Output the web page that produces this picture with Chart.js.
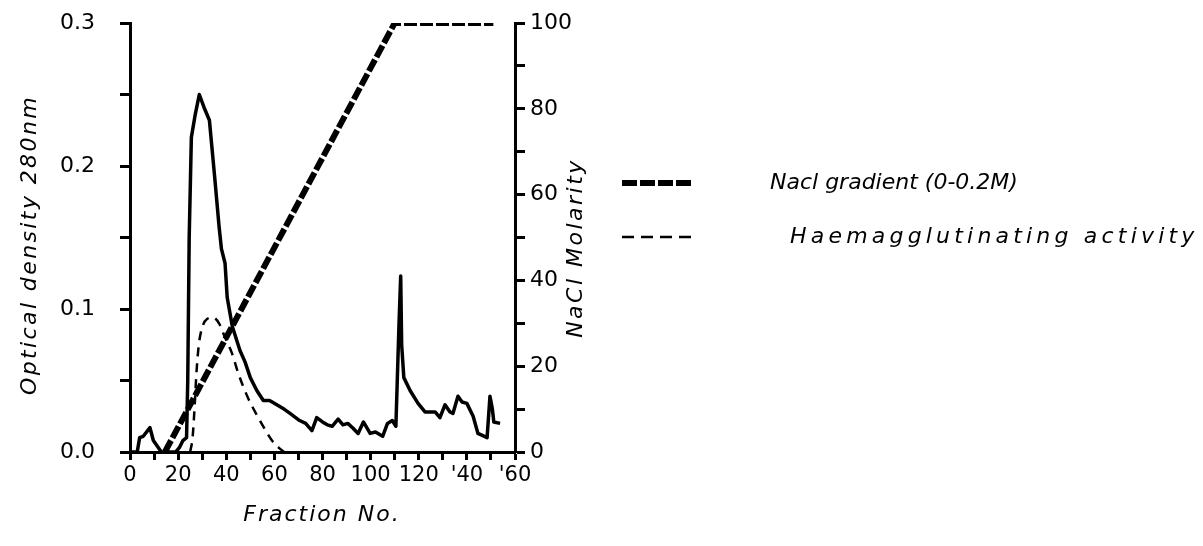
<!DOCTYPE html>
<html>
<head>
<meta charset="utf-8">
<script src="https://cdn.jsdelivr.net/npm/chart.js@4.4.1/dist/chart.umd.min.js"></script>
<style>
  html, body { margin: 0; padding: 0; background: #fff; }
  #wrap { width: 1203px; height: 546px; position: relative; }
</style>
</head>
<body>
<div id="wrap"><canvas id="chart" width="1203" height="546"></canvas></div>
<script>
// optical density at 280nm (left axis)
const odFraction = [0, 3, 4, 5.5, 8.3, 9.7, 11.8, 13, 19, 20.5, 22, 23.5, 24, 24.6, 25.5, 27, 28.8, 31, 33, 35.2, 37, 38, 39.5, 40.4, 42.5, 45.7, 47.8, 50, 52.7, 55.4, 58, 61, 64, 66.5, 70.5, 73, 75.6, 77.6, 80, 82, 84, 86.5, 88.5, 90.5, 92.5, 94.8, 97, 99.8, 102, 105, 107, 109, 110.5, 111.8, 112.5, 112.9, 113.8, 116.4, 119.7, 122.6, 126.8, 128.8, 130.9, 133, 134.2, 136.3, 138, 140, 142.6, 144.6, 148.4, 149.6, 150.6, 151.2, 153.8];
const odValue    = [0, 0, 0.01, 0.011, 0.017, 0.008, 0.003, 0, 0, 0.003, 0.008, 0.01, 0.05, 0.15, 0.22, 0.235, 0.25, 0.24, 0.232, 0.192, 0.158, 0.142, 0.132, 0.108, 0.088, 0.071, 0.063, 0.052, 0.043, 0.036, 0.036, 0.033, 0.03, 0.027, 0.022, 0.02, 0.015, 0.024, 0.021, 0.019, 0.018, 0.023, 0.019, 0.02, 0.017, 0.013, 0.021, 0.013, 0.014, 0.011, 0.02, 0.022, 0.018, 0.09, 0.123, 0.075, 0.052, 0.043, 0.034, 0.028, 0.028, 0.024, 0.033, 0.028, 0.027, 0.039, 0.035, 0.034, 0.025, 0.013, 0.01, 0.039, 0.03, 0.021, 0.02];

// NaCl gradient (right axis, 0-100)
const naclFraction = [14.5, 110, 151];
const naclValue    = [0, 100, 100];

// haemagglutinating activity (left axis)
const haFraction = [25, 26, 26.8, 27.6, 28.6, 30, 32, 34.5, 37, 39.5, 42.4, 45, 49, 52, 55, 59, 62.5, 64];
const haValue    = [0, 0.01, 0.03, 0.055, 0.075, 0.087, 0.093, 0.094, 0.09, 0.08, 0.069, 0.055, 0.038, 0.028, 0.019, 0.008, 0.002, 0];

const xTickLabels = {0: '0', 20: '20', 40: '40', 60: '60', 80: '80', 100: '100', 120: '120', 140: "'40", 160: "'60"};
const leftTickLabels = {0: '0.0', 10: '0.1', 20: '0.2', 30: '0.3'};
const rightTickLabels = {0: '0', 20: '20', 40: '40', 60: '60', 80: '80', 100: '100'};

const toPoints = (xs, ys) => xs.map((x, i) => ({ x: x, y: ys[i] }));

const FONT = "'DejaVu Sans', sans-serif";

function spacedText(ctx, text, x, y, spacing, angle) {
  ctx.save();
  ctx.translate(x, y);
  ctx.rotate(angle);
  ctx.letterSpacing = spacing + 'px';
  ctx.textAlign = 'center';
  ctx.textBaseline = 'middle';
  ctx.fillText(text, 0, 0);
  ctx.restore();
}

// axis titles (hand lettered, widely spaced) and the legend at the right
const annotations = {
  id: 'annotations',
  afterDraw(chart) {
    const ctx = chart.ctx;
    ctx.save();
    ctx.fillStyle = '#000';
    ctx.font = 'italic 22px ' + FONT;
    spacedText(ctx, 'Optical density 280nm', 30, 245, 2.4, -Math.PI / 2);
    spacedText(ctx, 'NaCl Molarity', 576, 248, 2.5, -Math.PI / 2);
    spacedText(ctx, 'Fraction No.', 322, 515, 2, 0);

    const rows = [
      { ds: chart.data.datasets[1], y: 183, textX: 770, spacing: 0 },
      { ds: chart.data.datasets[2], y: 237, textX: 790, spacing: 4.2 }
    ];
    rows.forEach(r => {
      ctx.beginPath();
      ctx.strokeStyle = '#000';
      ctx.lineWidth = r.ds.borderWidth;
      ctx.setLineDash(r.ds.legendDash);
      ctx.moveTo(622, r.y);
      ctx.lineTo(692, r.y);
      ctx.stroke();
      ctx.setLineDash([]);
      ctx.save();
      ctx.letterSpacing = r.spacing + 'px';
      ctx.textAlign = 'left';
      ctx.textBaseline = 'middle';
      ctx.fillText(r.ds.label, r.textX, r.y);
      ctx.restore();
    });
    ctx.restore();
  }
};

const noPad = s => { s.paddingTop = 0; s.paddingBottom = 0; s.paddingLeft = 0; s.paddingRight = 0; };

new Chart(document.getElementById('chart'), {
  type: 'line',
  data: {
    datasets: [
      {
        label: 'Optical density 280nm',
        data: toPoints(odFraction, odValue),
        yAxisID: 'y',
        borderColor: '#000',
        borderWidth: 3.5,
        pointRadius: 0,
        tension: 0,
        borderJoinStyle: 'round'
      },
      {
        label: 'Nacl gradient (0-0.2M)',
        data: toPoints(naclFraction, naclValue),
        yAxisID: 'y2',
        borderColor: '#000',
        borderWidth: 6,
        borderDash: [13, 3],
        legendDash: [15, 3],
        pointRadius: 0,
        tension: 0
      },
      {
        label: 'Haemagglutinating activity',
        data: toPoints(haFraction, haValue),
        yAxisID: 'y',
        borderColor: '#000',
        borderWidth: 2.5,
        borderDash: [9, 7],
        legendDash: [12, 7],
        pointRadius: 0,
        cubicInterpolationMode: 'monotone'
      }
    ]
  },
  options: {
    responsive: false,
    animation: false,
    layout: { padding: { left: 0, right: 603, top: 23, bottom: 0 } },
    plugins: { legend: { display: false }, tooltip: { enabled: false } },
    scales: {
      x: {
        type: 'linear',
        min: 0,
        max: 160,
        afterFit: s => { s.height = 94; noPad(s); },
        border: { color: '#000', width: 3 },
        grid: { drawOnChartArea: false, drawTicks: true, tickLength: 8, tickWidth: 3, color: '#000' },
        ticks: {
          stepSize: 10,
          autoSkip: false,
          maxRotation: 0,
          padding: 3,
          color: '#000',
          font: { family: FONT, size: 21 },
          callback: v => xTickLabels[v] !== undefined ? xTickLabels[v] : ''
        }
      },
      y: {
        type: 'linear',
        position: 'left',
        min: 0,
        max: 0.3,
        afterFit: s => { s.width = 130; noPad(s); },
        border: { color: '#000', width: 3 },
        grid: { drawOnChartArea: false, drawTicks: true, tickLength: 10, tickWidth: 3, color: '#000' },
        ticks: {
          stepSize: 0.05,
          autoSkip: false,
          padding: 25,
          color: '#000',
          font: { family: FONT, size: 22 },
          callback: v => {
            const k = Math.round(v * 100);
            return leftTickLabels[k] !== undefined ? leftTickLabels[k] : '';
          }
        }
      },
      y2: {
        type: 'linear',
        position: 'right',
        min: 0,
        max: 100,
        afterFit: s => { s.width = 85; noPad(s); },
        border: { color: '#000', width: 3 },
        grid: { drawOnChartArea: false, drawTicks: true, tickLength: 10, tickWidth: 3, color: '#000' },
        ticks: {
          stepSize: 10,
          autoSkip: false,
          padding: 5,
          color: '#000',
          font: { family: FONT, size: 22 },
          callback: v => rightTickLabels[v] !== undefined ? rightTickLabels[v] : ''
        }
      }
    }
  },
  plugins: [annotations]
});
</script>
</body>
</html>
